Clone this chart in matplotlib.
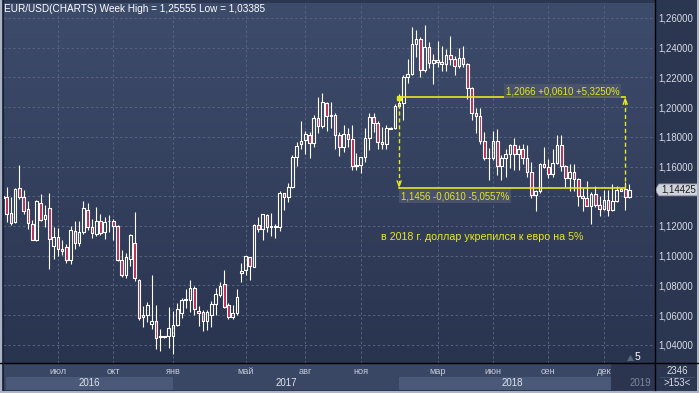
import numpy as np
import matplotlib
matplotlib.use("Agg")
import matplotlib.pyplot as plt
from matplotlib.patches import Rectangle, Polygon
from matplotlib.collections import LineCollection, PatchCollection
from matplotlib.colors import LinearSegmentedColormap

plt.rcParams['font.family'] = ['Liberation Sans', 'DejaVu Sans']

# ---------------- data (weekly EUR/USD candles, left to right) ----------------
opens = [1.1385,1.1397,1.1285,1.1223,1.1453,1.1392,1.1312,1.1214,1.1102,1.1357,
         1.1245,1.1319,1.1066,1.1124,1.1044,1.1057,1.0972,1.1167,1.1088,1.1156,
         1.1308,1.1191,1.1147,1.1236,1.1156,1.1232,1.1234,1.1196,1.0972,1.0872,
         1.0977,1.1084,1.0838,1.0597,1.0597,1.0540,1.0560,1.0450,1.0453,1.0458,
         1.0458,1.0532,1.0615,1.0700,1.0704,1.0782,1.0626,1.0621,1.0559,1.0603,
         1.0675,1.0737,1.0810,1.0666,1.0585,1.0615,1.0883,1.0901,1.0990,1.0923,
         1.1203,1.1178,1.1274,1.1191,1.1198,1.1191,1.1419,1.1392,1.1460,1.1665,
         1.1752,1.1777,1.1810,1.1755,1.1929,1.1870,1.2030,1.1942,1.1950,1.1815,
         1.1730,1.1820,1.1785,1.1605,1.1610,1.1665,1.1795,1.1935,1.1895,1.1765,
         1.1750,1.1855,1.1860,1.2005,1.2030,1.2200,1.2220,1.2425,1.2460,1.2250,
         1.2405,1.2295,1.2320,1.2305,1.2290,1.2353,1.2325,1.2280,1.2330,1.2290,
         1.2130,1.1960,1.1940,1.1770,1.1655,1.1660,1.1770,1.1605,1.1655,1.1685,
         1.1745,1.1685,1.1720,1.1655,1.1565,1.1410,1.1435,1.1620,1.1600,1.1550,
         1.1625,1.1745,1.1605,1.1525,1.1560,1.1515,1.1400,1.1390,1.1335,1.1415,
         1.1340,1.1315,1.1375,1.1305,1.1370,1.1432,1.1446,1.1395]
highs = [1.1440,1.1464,1.1397,1.1453,1.1609,1.1442,1.1370,1.1240,1.1375,1.1415,
         1.1341,1.1419,1.1191,1.1185,1.1106,1.1080,1.1196,1.1236,1.1236,1.1368,
         1.1357,1.1245,1.1330,1.1281,1.1258,1.1274,1.1245,1.1207,1.1039,1.1017,
         1.1145,1.1296,1.0840,1.0659,1.0686,1.0872,1.0670,1.0503,1.0460,1.0655,
         1.0626,1.0682,1.0715,1.0775,1.0834,1.0793,1.0659,1.0637,1.0632,1.0693,
         1.0782,1.0825,1.0905,1.0682,1.0670,1.0775,1.0950,1.0995,1.0990,1.1214,
         1.1263,1.1281,1.1281,1.1290,1.1214,1.1437,1.1424,1.1486,1.1676,1.1766,
         1.1904,1.1840,1.1833,1.1945,1.2070,1.2092,1.2035,1.2034,1.1958,1.1830,
         1.1880,1.1860,1.1880,1.1690,1.1665,1.1862,1.1961,1.1961,1.1905,1.1863,
         1.1880,1.1868,1.2023,1.2089,1.2215,1.2323,1.2537,1.2522,1.2470,1.2555,
         1.2440,1.2355,1.2446,1.2413,1.2388,1.2476,1.2345,1.2396,1.2413,1.2295,
         1.2135,1.1995,1.1996,1.1830,1.1725,1.1840,1.1852,1.1676,1.1720,1.1750,
         1.1790,1.1745,1.1750,1.1745,1.1630,1.1445,1.1623,1.1733,1.1650,1.1720,
         1.1815,1.1815,1.1610,1.1620,1.1620,1.1520,1.1455,1.1500,1.1425,1.1472,
         1.1401,1.1440,1.1443,1.1485,1.1470,1.1452,1.1498,1.1485]
lows = [1.1370,1.1229,1.1207,1.1218,1.1379,1.1281,1.1178,1.1102,1.1095,1.1236,
        1.1191,1.0910,1.0977,1.1000,1.1006,1.0950,1.0945,1.1044,1.1062,1.1147,
        1.1173,1.1118,1.1133,1.1140,1.1115,1.1162,1.1102,1.0961,1.0856,1.0849,
        1.0932,1.0827,1.0565,1.0521,1.0552,1.0505,1.0369,1.0355,1.0447,1.0375,
        1.0339,1.0525,1.0581,1.0648,1.0621,1.0603,1.0525,1.0492,1.0498,1.0520,
        1.0603,1.0722,1.0648,1.0576,1.0570,1.0599,1.0822,1.0872,1.0834,1.0921,
        1.1162,1.1102,1.1162,1.1133,1.1118,1.1169,1.1308,1.1363,1.1455,1.1603,
        1.1715,1.1681,1.1654,1.1732,1.1823,1.1860,1.1838,1.1860,1.1718,1.1669,
        1.1700,1.1730,1.1574,1.1575,1.1553,1.1630,1.1711,1.1830,1.1717,1.1718,
        1.1718,1.1850,1.1850,1.1995,1.1916,1.2165,1.2214,1.2335,1.2206,1.2235,
        1.2260,1.2154,1.2270,1.2240,1.2240,1.2285,1.2215,1.2260,1.2270,1.2055,
        1.1910,1.1823,1.1750,1.1644,1.1510,1.1645,1.1540,1.1508,1.1527,1.1590,
        1.1575,1.1575,1.1620,1.1530,1.1387,1.1300,1.1420,1.1590,1.1525,1.1530,
        1.1620,1.1570,1.1463,1.1432,1.1432,1.1335,1.1300,1.1335,1.1215,1.1325,
        1.1267,1.1310,1.1268,1.1300,1.1360,1.1432,1.1310,1.1390]
closes = [1.1398,1.1281,1.1218,1.1446,1.1397,1.1303,1.1218,1.1106,1.1370,1.1240,
          1.1274,1.1111,1.1128,1.1044,1.1028,1.0968,1.1173,1.1084,1.1156,1.1319,
          1.1191,1.1151,1.1236,1.1151,1.1229,1.1234,1.1196,1.0968,1.0872,1.0990,
          1.1140,1.0849,1.0581,1.0588,1.0670,1.0560,1.0447,1.0458,1.0456,1.0514,
          1.0536,1.0641,1.0704,1.0708,1.0780,1.0641,1.0615,1.0559,1.0621,1.0675,
          1.0742,1.0793,1.0652,1.0585,1.0615,1.0722,1.0898,1.0995,1.0928,1.1207,
          1.1178,1.1278,1.1191,1.1200,1.1191,1.1419,1.1397,1.1464,1.1665,1.1739,
          1.1770,1.1817,1.1755,1.1929,1.1870,1.2034,1.1942,1.1950,1.1815,1.1730,
          1.1820,1.1785,1.1605,1.1610,1.1665,1.1795,1.1935,1.1895,1.1765,1.1750,
          1.1860,1.1862,1.2005,1.2030,1.2200,1.2220,1.2425,1.2460,1.2250,1.2405,
          1.2295,1.2320,1.2305,1.2290,1.2353,1.2325,1.2280,1.2330,1.2290,1.2130,
          1.1960,1.1940,1.1770,1.1655,1.1660,1.1770,1.1605,1.1655,1.1685,1.1745,
          1.1685,1.1720,1.1655,1.1565,1.1410,1.1435,1.1620,1.1600,1.1550,1.1625,
          1.1745,1.1605,1.1525,1.1560,1.1515,1.1400,1.1390,1.1335,1.1415,1.1340,
          1.1315,1.1375,1.1305,1.1370,1.1440,1.1446,1.1395,1.14425]

month_pos = [13, 26, 40, 57, 71, 84, 102, 115, 128, 141]
month_labels = ['июл', 'окт', 'янв', 'май', 'авг', 'ноя', 'мар', 'июн', 'сен', 'дек']
year_starts = [0.85, 40, 93, 146.3]
year_labels = ['2016', '2017', '2018', '2019']
y_ticks = [1.04, 1.06, 1.08, 1.10, 1.12, 1.14, 1.16, 1.18, 1.20, 1.22, 1.24, 1.26]
last_price = 1.14425
meas_from, meas_to = 93, 146
meas_high, meas_low = 1.2066, 1.1456
title = 'EUR/USD(CHARTS) Week High = 1,25555 Low = 1,03385'
top_label = '1,2066 +0,0610 +5,3250%'
bottom_label = '1,1456 -0,0610 -5,0557%'
note = 'в 2018 г. доллар укрепился к евро на 5%'
bars_total, bars_visible, right_offset = '2346', '>153<', '5'

# ---------------- layout ----------------
W, H = 699, 393
X0_PX, STEP_PX = 2.37, 4.266
YELLOW = '#e8e81e'
RED = '#bb2a50'

fig = plt.figure(figsize=(W / 100, H / 100), dpi=100, facecolor='#2b3651')


def frac(x0, y0, x1, y1):
    return [x0 / W, 1 - y1 / H, (x1 - x0) / W, (y1 - y0) / H]


xlim = ((3 - X0_PX) / STEP_PX, (655 - X0_PX) / STEP_PX)
ylim = (1.02768, 1.2701)

ax = fig.add_axes(frac(3, 3, 655, 363))
cmap = LinearSegmentedColormap.from_list('bg', ['#29344f', '#3e4c6c'])
ax.imshow(np.linspace(0, 1, 256)[:, None], extent=(*xlim, *ylim), origin='lower',
          aspect='auto', cmap=cmap, zorder=0)
ax.set_xlim(*xlim)
ax.set_ylim(*ylim)
ax.set_yticks(y_ticks)
# the 1,14000 label is hidden behind the current-price marker
ax.set_yticklabels(['' if abs(v - last_price) < 0.008 else f'{v:.5f}'.replace('.', ',')
                    for v in y_ticks])
ax.set_xticks(month_pos)
ax.yaxis.tick_right()
ax.tick_params(axis='y', length=0, pad=2.5, labelsize=6.9, labelcolor='#d8dde6')
ax.tick_params(axis='x', length=0, labelbottom=False)
ax.grid(True, color='#56647f', linestyle=(0, (2.5, 2.5)), linewidth=0.7, zorder=0.5)
ax.set_axisbelow(True)
for s in ax.spines.values():
    s.set_visible(False)

# candles
bw = 0.62
upper, lower, bodies_up, bodies_dn = [], [], [], []
for i, (o, h, l, c) in enumerate(zip(opens, highs, lows, closes)):
    top, bot = max(o, c), min(o, c)
    upper.append([(i, top), (i, h)])
    lower.append([(i, l), (i, bot)])
    rect = Rectangle((i - bw / 2, bot), bw, max(top - bot, 0.00005))
    (bodies_up if c >= o else bodies_dn).append(rect)
ax.add_collection(LineCollection(upper + lower, colors='white', linewidths=0.8, zorder=3))
ax.add_collection(PatchCollection(bodies_up, facecolor='none', edgecolor='white',
                                  linewidths=0.8, zorder=4))
ax.add_collection(PatchCollection(bodies_dn, facecolor=RED, edgecolor='white',
                                  linewidths=0.8, zorder=4))

# measurement tool
ax.plot([meas_from, meas_to], [meas_high, meas_high], color=YELLOW, lw=1.2, zorder=5)
ax.plot([meas_from, meas_to], [meas_low, meas_low], color=YELLOW, lw=1.2, zorder=5)
ax.plot([meas_from, meas_from], [meas_high, meas_low], color=YELLOW, lw=1.0,
        ls=(0, (3, 2)), zorder=5)
ax.plot([meas_to, meas_to], [meas_low, meas_high], color=YELLOW, lw=1.0,
        ls=(0, (3, 2)), zorder=5)
ah, aw = 0.0035, 0.45
ax.plot([meas_from - aw, meas_from, meas_from + aw],
        [meas_low + 0.0011 + ah, meas_low + 0.0011, meas_low + 0.0011 + ah],
        color=YELLOW, lw=1.0, zorder=5)
ax.plot([meas_to - aw, meas_to, meas_to + aw],
        [meas_high - 0.0011 - ah, meas_high - 0.0011, meas_high - 0.0011 - ah],
        color=YELLOW, lw=1.0, zorder=5)
ax.plot([meas_from], [meas_high - 0.0008], marker='s', ms=3, color=YELLOW, zorder=6)

box_kw = dict(facecolor='#4c566c', edgecolor='none', alpha=0.85, pad=1.5)
ax.text(meas_to - 1.4, meas_high + 0.0040, top_label, color=YELLOW, fontsize=6.9,
        ha='right', va='center', zorder=6, bbox=box_kw)
ax.text(meas_from + 0.4, meas_low - 0.0055, bottom_label, color=YELLOW, fontsize=6.9,
        ha='left', va='center', zorder=6, bbox=box_kw)
ax.text(112.4, 1.1125, note, color=YELLOW, fontsize=7.7, ha='center', va='center', zorder=6)

# current price marker on the right scale
pt = ax.get_yaxis_transform()
dh = 0.0040
ax.add_patch(Polygon([(1.0, last_price), (1.0 + 4 / 652, last_price + dh),
                      (1.0655, last_price + dh), (1.0655, last_price - dh),
                      (1.0 + 4 / 652, last_price - dh)], closed=True, transform=pt,
                     facecolor='#cfd3db', edgecolor='#8e96a6', lw=0.6, clip_on=False, zorder=7))
ax.text(1.0 + 24 / 652, last_price, f'{last_price:.5f}'.replace('.', ','), transform=pt,
        ha='center', va='center', fontsize=6.9, color='#1c1c1c', clip_on=False, zorder=8)

# ---------------- bottom time panel ----------------
bx = fig.add_axes(frac(3, 363, 655, 390))
bx.set_xlim(*xlim)
bx.set_ylim(0, 1)
bx.set_facecolor('#3a4764')
bx.set_xticks([])
bx.set_yticks([])
for s in bx.spines.values():
    s.set_visible(False)
ends = year_starts[1:] + [xlim[1]]
for k, (y0, y1, lab) in enumerate(zip(year_starts, ends, year_labels)):
    if k % 2 == 0:
        bx.axvspan(y0, y1, ymin=0, ymax=0.48, color='#4b5979', lw=0)
bx.axvspan(142.7, xlim[1], color='#2b3550', lw=0)
for y0, y1, lab in zip(year_starts, ends, year_labels):
    bx.text((y0 + y1) / 2, 0.25, lab, ha='center', va='center', fontsize=7,
            color='#7b8498' if lab == '2019' else '#dde2ea')
for p, lab in zip(month_pos, month_labels):
    bx.text(p, 0.68, lab, ha='center', va='center', fontsize=6.6, color='#c3cad8')

# ---------------- overlay (pixel coords) ----------------
ov = fig.add_axes([0, 0, 1, 1], zorder=10)
ov.set_xlim(0, W)
ov.set_ylim(H, 0)
ov.axis('off')
ov.text(4, 9, title, color='white', fontsize=7.2, ha='left', va='center')
ov.text(677, 371, bars_total, color='#d8dde6', fontsize=6.9, ha='center', va='center')
ov.text(677, 383, bars_visible, color='#d8dde6', fontsize=6.9, ha='center', va='center')
ov.plot([660, 694], [377, 377], color='#46536e', lw=0.6)
ov.text(637, 357.5, right_offset, color='white', fontsize=7.5, ha='center', va='center')
ov.add_patch(Polygon([(627, 361), (630.5, 355), (634, 361)], closed=True,
                     facecolor='#5d6880', edgecolor='none'))
ov.plot([0, W], [363, 363], color='black', lw=1.0)
ov.plot([655, 655], [0, 390], color='black', lw=1.0)
ov.add_patch(Rectangle((0, 0), 2, H, facecolor='#aab3c4', edgecolor='none'))
ov.add_patch(Rectangle((0, 390.5), W, 3, facecolor='#aab3c4', edgecolor='none'))
ov.add_patch(Rectangle((697, 0), 2, H, facecolor='#aab3c4', edgecolor='none'))
ov.plot([2.5, 2.5], [0, 390], color='#1a2233', lw=0.8)

fig.savefig('out.png', dpi=100, facecolor=fig.get_facecolor())
